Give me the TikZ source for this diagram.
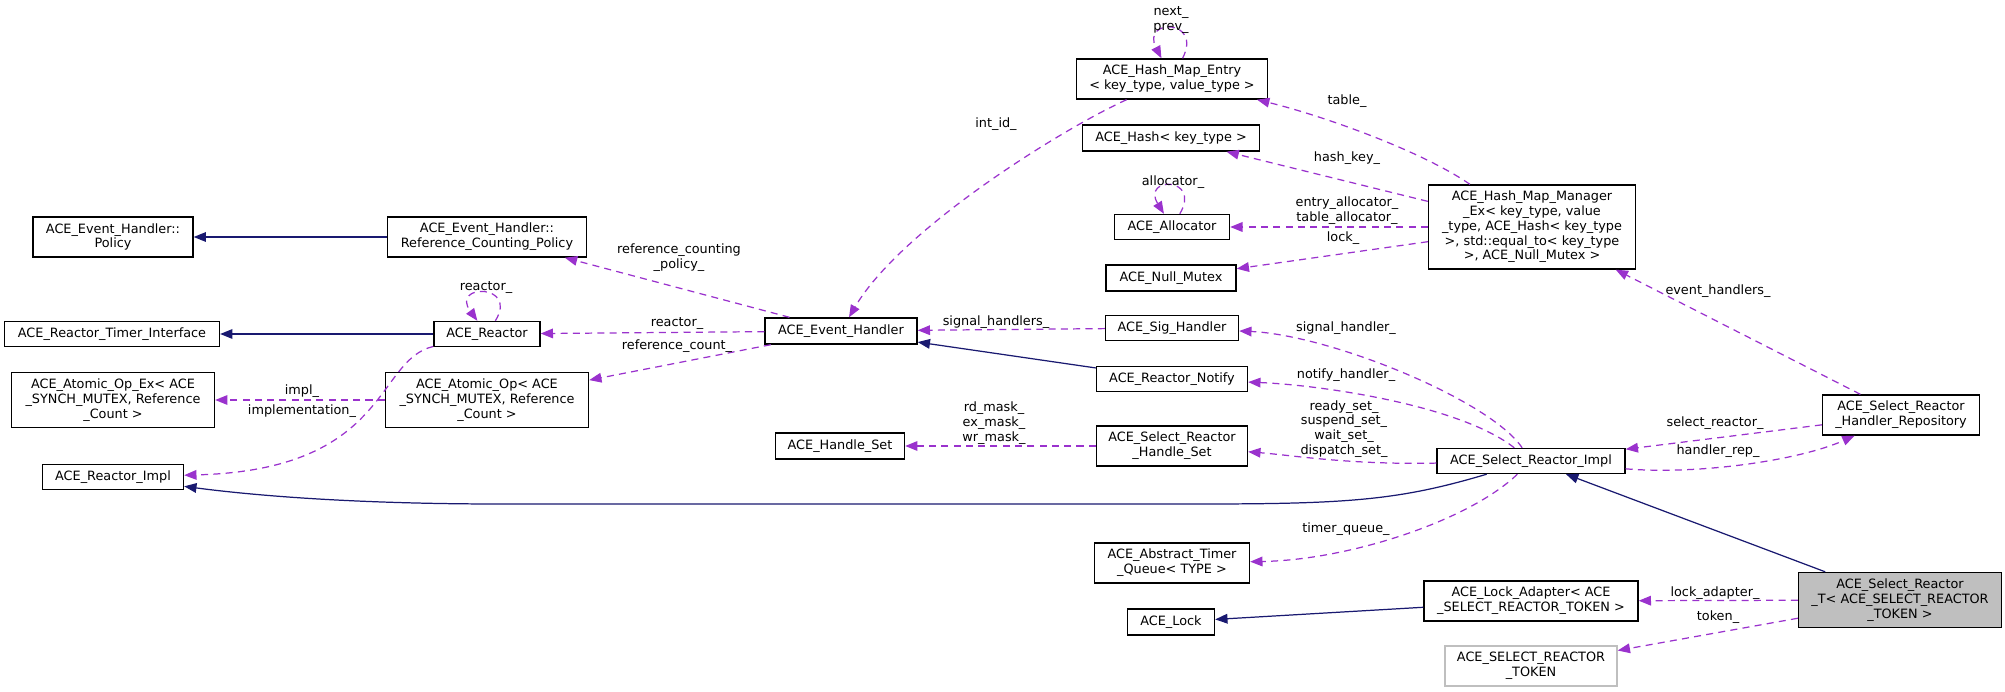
\documentclass[tikz,border=0pt]{standalone}
\usepackage{fontspec}
\setmainfont{DejaVu Sans}
\usetikzlibrary{arrows.meta}
\definecolor{usecol}{HTML}{9A32CD}
\definecolor{inhcol}{HTML}{191970}
\definecolor{tokgrey}{HTML}{BFBFBF}
\newcommand{\dgfont}{\fontsize{7.3}{8.4}\selectfont}
\begin{document}
\begin{tikzpicture}[x=0.02cm,y=-0.02cm,
    cls/.style={draw=black,fill=white,line width=0.8pt,align=center,inner sep=1pt,font=\dgfont},
    lbl/.style={align=center,inner sep=0pt,font=\dgfont},
    use/.style={draw=usecol,dashed,dash pattern=on 4pt off 3pt,line width=0.7pt,-{Triangle[length=7pt,width=5.5pt]}},
    inh/.style={draw=inhcol,line width=0.7pt,-{Triangle[length=7pt,width=5.5pt]}}]
  \useasboundingbox (0,0) rectangle (2005,692);
  % classes
  \node[cls,minimum width=3.82cm,minimum height=0.80cm] (entry) at (1172,79) {ACE\_Hash\_Map\_Entry\\< key\_type, value\_type >};
  \node[cls,minimum width=3.54cm,minimum height=0.52cm] (hash) at (1171,138) {ACE\_Hash< key\_type >};
  \node[cls,minimum width=2.30cm,minimum height=0.50cm] (alloc) at (1172,227) {ACE\_Allocator};
  \node[cls,minimum width=2.60cm,minimum height=0.52cm] (nullmtx) at (1171,278) {ACE\_Null\_Mutex};
  \node[cls,minimum width=4.14cm,minimum height=1.68cm] (mgr) at (1532,227) {ACE\_Hash\_Map\_Manager\\\_Ex< key\_type, value\\\_type, ACE\_Hash< key\_type\\>, std::equal\_to< key\_type\\>, ACE\_Null\_Mutex >};
  \node[cls,minimum width=3.20cm,minimum height=0.80cm] (policy) at (113,237) {ACE\_Event\_Handler::\\Policy};
  \node[cls,minimum width=3.98cm,minimum height=0.80cm] (refpol) at (487,237) {ACE\_Event\_Handler::\\Reference\_Counting\_Policy};
  \node[cls,minimum width=4.30cm,minimum height=0.50cm] (timerif) at (112,334) {ACE\_Reactor\_Timer\_Interface};
  \node[cls,minimum width=2.12cm,minimum height=0.50cm] (reactor) at (487,334) {ACE\_Reactor};
  \node[cls,minimum width=3.04cm,minimum height=0.52cm] (evh) at (841,331) {ACE\_Event\_Handler};
  \node[cls,minimum width=2.66cm,minimum height=0.50cm] (sig) at (1172,328) {ACE\_Sig\_Handler};
  \node[cls,minimum width=4.06cm,minimum height=1.10cm] (atomicex) at (113,400) {ACE\_Atomic\_Op\_Ex< ACE\\\_SYNCH\_MUTEX, Reference\\\_Count >};
  \node[cls,minimum width=4.06cm,minimum height=1.10cm] (atomic) at (487,400) {ACE\_Atomic\_Op< ACE\\\_SYNCH\_MUTEX, Reference\\\_Count >};
  \node[cls,minimum width=3.02cm,minimum height=0.50cm] (notify) at (1172,379) {ACE\_Reactor\_Notify};
  \node[cls,minimum width=2.82cm,minimum height=0.50cm] (rimpl) at (113,477) {ACE\_Reactor\_Impl};
  \node[cls,minimum width=2.58cm,minimum height=0.52cm] (handleset) at (840,446) {ACE\_Handle\_Set};
  \node[cls,minimum width=3.02cm,minimum height=0.80cm] (hset) at (1172,446) {ACE\_Select\_Reactor\\\_Handle\_Set};
  \node[cls,minimum width=3.76cm,minimum height=0.50cm] (selimpl) at (1531,461) {ACE\_Select\_Reactor\_Impl};
  \node[cls,minimum width=3.14cm,minimum height=0.80cm] (repo) at (1901,415) {ACE\_Select\_Reactor\\\_Handler\_Repository};
  \node[cls,minimum width=3.10cm,minimum height=0.80cm] (timerq) at (1172,563) {ACE\_Abstract\_Timer\\\_Queue< TYPE >};
  \node[cls,minimum width=4.28cm,minimum height=0.80cm] (lockad) at (1531,601) {ACE\_Lock\_Adapter< ACE\\\_SELECT\_REACTOR\_TOKEN >};
  \node[cls,minimum width=1.74cm,minimum height=0.52cm] (lock) at (1171,622) {ACE\_Lock};
  \node[cls,fill=tokgrey,minimum width=4.06cm,minimum height=1.10cm] (selT) at (1900,600) {ACE\_Select\_Reactor\\\_T< ACE\_SELECT\_REACTOR\\\_TOKEN >};
  \node[cls,draw=tokgrey,minimum width=3.44cm,minimum height=0.80cm] (token) at (1531,666) {ACE\_SELECT\_REACTOR\\\_TOKEN};
  % inheritance
  \draw[inh] (refpol) -- (policy);
  \draw[inh] (reactor) -- (timerif);
  \draw[inh] (notify) -- (evh);
  \draw[inh] (lockad) -- (lock);
  \draw[inh] (selT) -- (selimpl);
  \draw[inh] (selimpl) .. controls (1400,500) and (1350,504) .. (1200,504) -- (500,504) .. controls (350,504) and (250,495) .. (rimpl);
  % members
  \draw[use] (entry) .. controls ([xshift=0.62cm,yshift=0.8cm]entry.north) and ([xshift=-0.62cm,yshift=0.8cm]entry.north) .. (entry);
  \draw[use] (alloc) .. controls ([xshift=0.6cm,yshift=0.75cm]alloc.north) and ([xshift=-0.62cm,yshift=0.75cm]alloc.north) .. (alloc);
  \draw[use] (reactor) .. controls ([xshift=0.64cm,yshift=0.75cm]reactor.north) and ([xshift=-0.74cm,yshift=0.75cm]reactor.north) .. (reactor);
  \draw[use] (entry) .. controls (1060,130) and (900,230) .. (evh);
  \draw[use] (mgr) .. controls (1420,150) and (1320,115) .. (entry);
  \draw[use] (mgr) -- (hash);
  \draw[use] (mgr) -- (alloc);
  \draw[use] (mgr) -- (nullmtx);
  \draw[use] (repo) -- (mgr);
  \draw[use] (evh) -- (refpol);
  \draw[use] (evh) -- (reactor);
  \draw[use] (evh) -- (atomic);
  \draw[use] (atomic) -- (atomicex);
  \draw[use] (reactor) .. controls (375,360) and (390,470) .. (rimpl);
  \draw[use] (sig) -- (evh);
  \draw[use] (selimpl) .. controls (1490,400) and (1330,335) .. (sig);
  \draw[use] (selimpl) .. controls (1460,405) and (1320,385) .. (notify);
  \draw[use] (selimpl) .. controls (1350,465) and (1290,455) .. (hset);
  \draw[use] (hset) -- (handleset);
  \draw[use] (selimpl) .. controls (1470,520) and (1350,560) .. (timerq);
  \draw[use] (repo) -- (selimpl);
  \draw[use] (selimpl) .. controls (1700,475) and (1800,460) .. (repo);
  \draw[use] (selT) -- (lockad);
  \draw[use] (selT) -- (token);
  % labels
  \node[lbl] (l-next) at (1171,20) {next\_\\prev\_};
  \node[lbl] (l-alloc) at (1173,182) {allocator\_};
  \node[lbl] (l-table) at (1347,101) {table\_};
  \node[lbl] (l-hash) at (1347,158) {hash\_key\_};
  \node[lbl] (l-entryal) at (1347,211) {entry\_allocator\_\\table\_allocator\_};
  \node[lbl] (l-lock) at (1343,238) {lock\_};
  \node[lbl] (l-intid) at (996,124) {int\_id\_};
  \node[lbl] (l-evhs) at (1718,291) {event\_handlers\_};
  \node[lbl] (l-refpol) at (679,258) {reference\_counting\\\_policy\_};
  \node[lbl] (l-rself) at (486,288) {reactor\_};
  \node[lbl] (l-reactor) at (677,324) {reactor\_};
  \node[lbl] (l-refcnt) at (677,346) {reference\_count\_};
  \node[lbl] (l-impl) at (302,391) {impl\_};
  \node[lbl] (l-implem) at (302,411) {implementation\_};
  \node[lbl] (l-sighs) at (996,322) {signal\_handlers\_};
  \node[lbl] (l-sigh) at (1346,328) {signal\_handler\_};
  \node[lbl] (l-notify) at (1346,375) {notify\_handler\_};
  \node[lbl] (l-sets) at (1344,429) {ready\_set\_\\suspend\_set\_\\wait\_set\_\\dispatch\_set\_};
  \node[lbl] (l-masks) at (994,423) {rd\_mask\_\\ex\_mask\_\\wr\_mask\_};
  \node[lbl] (l-selr) at (1715,423) {select\_reactor\_};
  \node[lbl] (l-hrep) at (1718,451) {handler\_rep\_};
  \node[lbl] (l-timerq) at (1346,529) {timer\_queue\_};
  \node[lbl] (l-lockad) at (1715,593) {lock\_adapter\_};
  \node[lbl] (l-token) at (1718,617) {token\_};
\end{tikzpicture}
\end{document}
